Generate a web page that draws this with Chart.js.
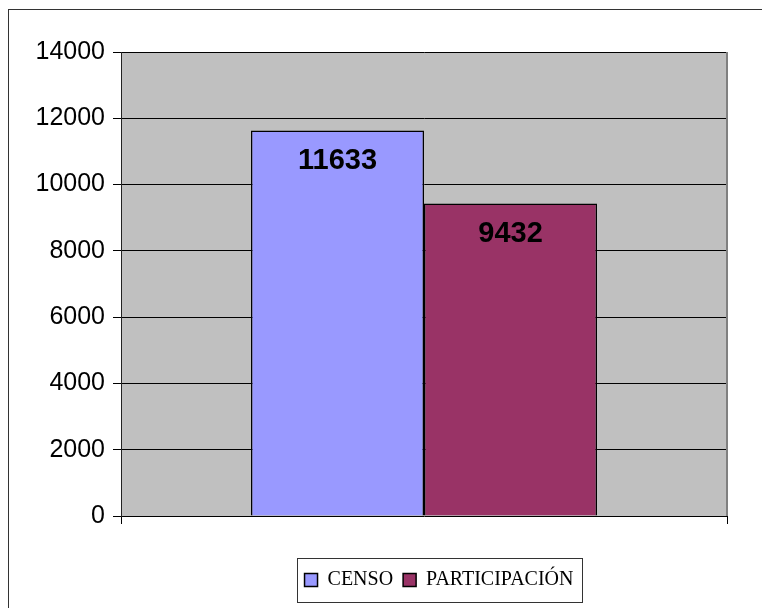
<!DOCTYPE html>
<html>
<head>
<meta charset="utf-8">
<script src="https://cdn.jsdelivr.net/npm/chart.js@4/dist/chart.umd.min.js"></script>
<style>
    html, body { margin: 0; padding: 0; background: #fff; }
    #wrap { width: 762px; height: 608px; position: relative; }
</style>
</head>
<body>
<div id="wrap"><canvas id="chart"></canvas></div>
<script>
// Data
const categories = [''];
const seriesNames = ['CENSO', 'PARTICIPACIÓN'];
const censo = [11633];
const participacion = [9432];
const yTicks = [0, 2000, 4000, 6000, 8000, 10000, 12000, 14000];

const FONT = '"Liberation Sans", Arial, Helvetica, sans-serif';
const SERIF = '"Liberation Serif", "Times New Roman", serif';

// Gray plot area, outer frame and right border
const backdrop = {
    id: 'backdrop',
    beforeDraw(chart) {
        const { ctx, chartArea: a } = chart;
        ctx.save();
        ctx.fillStyle = '#fff';
        ctx.fillRect(0, 0, chart.width, chart.height);
        ctx.strokeStyle = '#333';
        ctx.lineWidth = 1;
        ctx.strokeRect(8.5, 9.5, 1000, 1000);
        ctx.fillStyle = '#c0c0c0';
        ctx.fillRect(a.left, a.top, a.right - a.left, a.bottom - a.top);
        ctx.restore();
    },
    beforeDatasetsDraw(chart) {
        const { ctx, chartArea: a } = chart;
        ctx.save();
        ctx.strokeStyle = '#808080';
        ctx.lineWidth = 2;
        ctx.beginPath();
        ctx.moveTo(a.right, a.top);
        ctx.lineTo(a.right, a.bottom);
        ctx.stroke();
        ctx.restore();
    }
};

// Value labels inside the bars
const valueLabels = {
    id: 'valueLabels',
    afterDatasetsDraw(chart) {
        const { ctx } = chart;
        ctx.save();
        ctx.font = 'bold 29px ' + FONT;
        ctx.fillStyle = '#000';
        ctx.textAlign = 'center';
        ctx.textBaseline = 'middle';
        chart.data.datasets.forEach((ds, i) => {
            chart.getDatasetMeta(i).data.forEach((bar, j) => {
                ctx.fillText(String(ds.data[j]), bar.x, bar.y + 31);
            });
        });
        ctx.restore();
    }
};

// Move legend under the plot and draw a frame around it
const legendFrame = {
    id: 'legendFrame',
    afterUpdate(chart) {
        const lg = chart.legend;
        const hb = lg && lg.legendHitBoxes;
        if (!hb || !hb.length) return;
        const l = Math.min(...hb.map(h => h.left));
        const r = Math.max(...hb.map(h => h.left + h.width));
        const dx = 439 - (l + r) / 2;
        const dy = 580 - (hb[0].top + hb[0].height / 2);
        lg.left += dx; lg.right += dx;
        lg.top += dy; lg.bottom += dy;
        hb.forEach(h => { h.left += dx; h.top += dy; });
    },
    afterDraw(chart) {
        const hb = chart.legend.legendHitBoxes;
        if (!hb || !hb.length) return;
        const l = Math.min(...hb.map(h => h.left));
        const r = Math.max(...hb.map(h => h.left + h.width));
        const cy = hb[0].top + hb[0].height / 2;
        const { ctx } = chart;
        ctx.save();
        ctx.strokeStyle = '#333';
        ctx.lineWidth = 1;
        ctx.strokeRect(Math.round(l - 8) + 0.5, Math.round(cy - 22) + 0.5, Math.round(r - l + 16), 44);
        ctx.restore();
    }
};

new Chart(document.getElementById('chart'), {
    type: 'bar',
    data: {
        labels: categories,
        datasets: [
            {
                label: seriesNames[0],
                data: censo,
                backgroundColor: '#9999ff',
                borderColor: '#000',
                borderWidth: 1.5
            },
            {
                label: seriesNames[1],
                data: participacion,
                backgroundColor: '#993366',
                borderColor: '#000',
                borderWidth: 1.5
            }
        ]
    },
    options: {
        responsive: true,
        maintainAspectRatio: false,
        animation: false,
        categoryPercentage: 0.571,
        barPercentage: 1,
        layout: {
            padding: { top: 52, right: 35, left: 0, bottom: 0 }
        },
        plugins: {
            tooltip: { enabled: false },
            legend: {
                position: 'bottom',
                labels: {
                    boxWidth: 13,
                    boxHeight: 13,
                    padding: 10,
                    color: '#000',
                    font: { family: SERIF, size: 20 }
                }
            }
        },
        scales: {
            x: {
                grid: {
                    display: true,
                    drawOnChartArea: false,
                    drawTicks: true,
                    tickLength: 8,
                    color: '#000'
                },
                border: { display: false },
                ticks: { display: true, font: { size: 1 } },
                afterFit(scale) {
                    const lg = scale.chart.legend;
                    scale.height = 92 - (lg ? lg.height : 0);
                }
            },
            y: {
                min: 0,
                max: 14000,
                afterBuildTicks(scale) {
                    scale.ticks = yTicks.map(v => ({ value: v }));
                },
                afterFit(scale) {
                    scale.width = 121;
                },
                grid: {
                    color: '#000',
                    tickLength: 8,
                    lineWidth: 1
                },
                border: { color: '#222' },
                ticks: {
                    color: '#000',
                    padding: 8,
                    font: { family: FONT, size: 25 },
                    callback: v => String(v)
                }
            }
        }
    },
    plugins: [backdrop, valueLabels, legendFrame]
});
</script>
</body>
</html>
